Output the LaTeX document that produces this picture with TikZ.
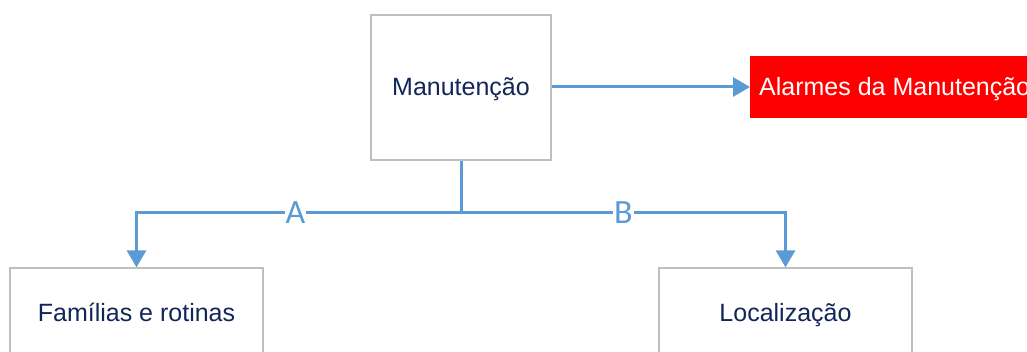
\documentclass[tikz,border=0pt]{standalone}
\usepackage{fontspec}
\setmainfont{Liberation Sans}
\newfontfamily\labfont{Carlito}
\usetikzlibrary{arrows.meta}
\definecolor{lineblue}{RGB}{91,155,213}
\definecolor{navy}{RGB}{18,38,88}
\definecolor{boxgray}{RGB}{191,191,191}
\definecolor{alarmred}{RGB}{255,0,0}
\tikzset{
  x=1pt,y=1pt,
  box/.style={draw=boxgray, line width=1.3pt, fill=white, text=navy, font=\fontsize{25}{30}\selectfont, inner sep=0pt, text height=20pt, text depth=3pt},
  conn/.style={draw=lineblue, line width=3pt},
  tip/.style={-{Triangle[length=17pt,width=19pt]}},
  lab/.style={fill=white, text=lineblue, font=\labfont\fontsize{34}{38}\selectfont, inner xsep=1pt, inner ysep=0pt}
}
\begin{document}
\begin{tikzpicture}
\useasboundingbox (0,0) rectangle (1027,-352);
\clip (0,0) rectangle (1027,-352);
\node[box, minimum width=180pt, minimum height=145pt] (man) at (461,-87.5) {Manutenção};
\node[fill=alarmred, text=white, anchor=west, inner xsep=9pt, minimum height=62pt, text height=20pt, text depth=3pt, font=\fontsize{25}{30}\selectfont] (alm) at (750,-87) {Alarmes da Manutenção\hspace{10pt}};
\node[box, minimum width=253pt, minimum height=90pt] (fam) at (136.5,-313) {Famílias e rotinas};
\node[box, minimum width=253pt, minimum height=90pt] (loc) at (785.5,-313) {Localização};
\coordinate (j) at (461,-213);
\draw[conn, tip] (man.east |- 0,-87) -- (alm.west);
\draw[conn] (man.south) -- (j);
\draw[conn, tip] (j) -- node[lab, pos=0.51] {A} (fam.north |- j) -- (fam.north);
\draw[conn, tip] (j) -- node[lab, pos=0.50] {B} (loc.north |- j) -- (loc.north);
\end{tikzpicture}
\end{document}
